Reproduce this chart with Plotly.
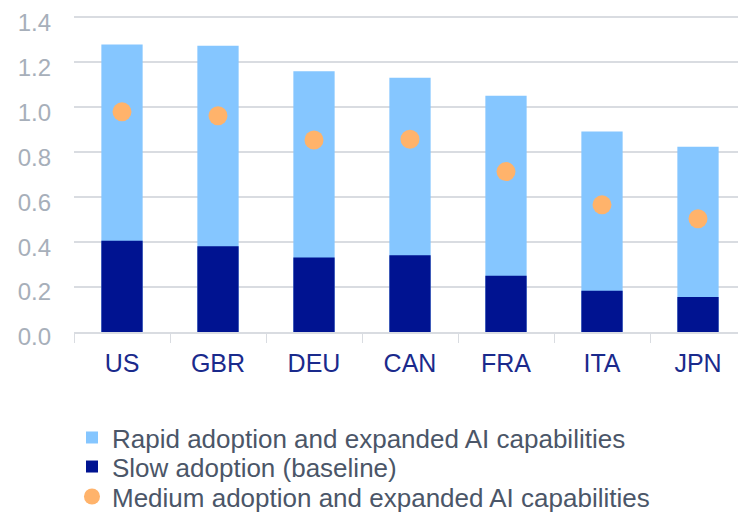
import plotly.graph_objects as go

countries = ["US", "GBR", "DEU", "CAN", "FRA", "ITA", "JPN"]
rapid = [1.28, 1.274, 1.161, 1.132, 1.052, 0.892, 0.825]
slow = [0.406, 0.382, 0.332, 0.342, 0.250, 0.184, 0.156]
medium = [0.98, 0.963, 0.855, 0.858, 0.714, 0.566, 0.504]

font_name = "Liberation Sans, Arial, sans-serif"

fig = go.Figure()
fig.add_trace(go.Bar(x=countries, y=rapid, name="Rapid adoption and expanded AI capabilities",
                     marker=dict(color="#85C6FF", line=dict(width=0)), width=0.43, legend="legend"))
fig.add_trace(go.Bar(x=countries, y=slow, name="Slow adoption (baseline)",
                     marker=dict(color="#001391", line=dict(width=0)), width=0.43, legend="legend2"))
fig.add_trace(go.Scatter(x=countries, y=medium, mode="markers", name="Medium adoption and expanded AI capabilities",
                         marker=dict(color="#FFB36B", size=19), legend="legend3"))

# one legend per row so the rows sit as tight as in the original
leg = dict(x=-0.003, xanchor="left", yanchor="middle",
           font=dict(family=font_name, size=26, color="#4B5668"),
           itemwidth=30, bgcolor="rgba(0,0,0,0)")

fig.update_layout(
    width=746, height=519,
    barmode="overlay",
    plot_bgcolor="white", paper_bgcolor="white",
    margin=dict(l=66, r=8, t=4.5, b=195, autoexpand=False),
    font=dict(family=font_name, size=24),
    showlegend=True,
    legend=dict(leg, y=-0.331),
    legend2=dict(leg, y=-0.422),
    legend3=dict(leg, y=-0.516),
)
fig.update_xaxes(
    type="category", tickson="boundaries", ticks="outside", ticklen=9, tickcolor="#D9DCE1",
    showline=True, linecolor="#D9DCE1", linewidth=1.5,
    tickfont=dict(color="#1A2A8C", size=25), ticklabelstandoff=8,
    range=[-0.5, 6.5],
)
# labels nudged down a touch so the top one isn't clipped by the page edge
fig.update_yaxes(
    range=[0, 1.42], tickvals=[0, 0.2, 0.4, 0.6, 0.8, 1.0, 1.2, 1.4], tickformat=".1f",
    showgrid=True, gridcolor="#D9DCE1", gridwidth=1.5, zeroline=False,
    tickfont=dict(color="#A7AFBA", size=24), ticklabelstandoff=22,
    ticklabeloverflow="allow", ticklabelshift=5,
)

fig.write_html("out.html")
